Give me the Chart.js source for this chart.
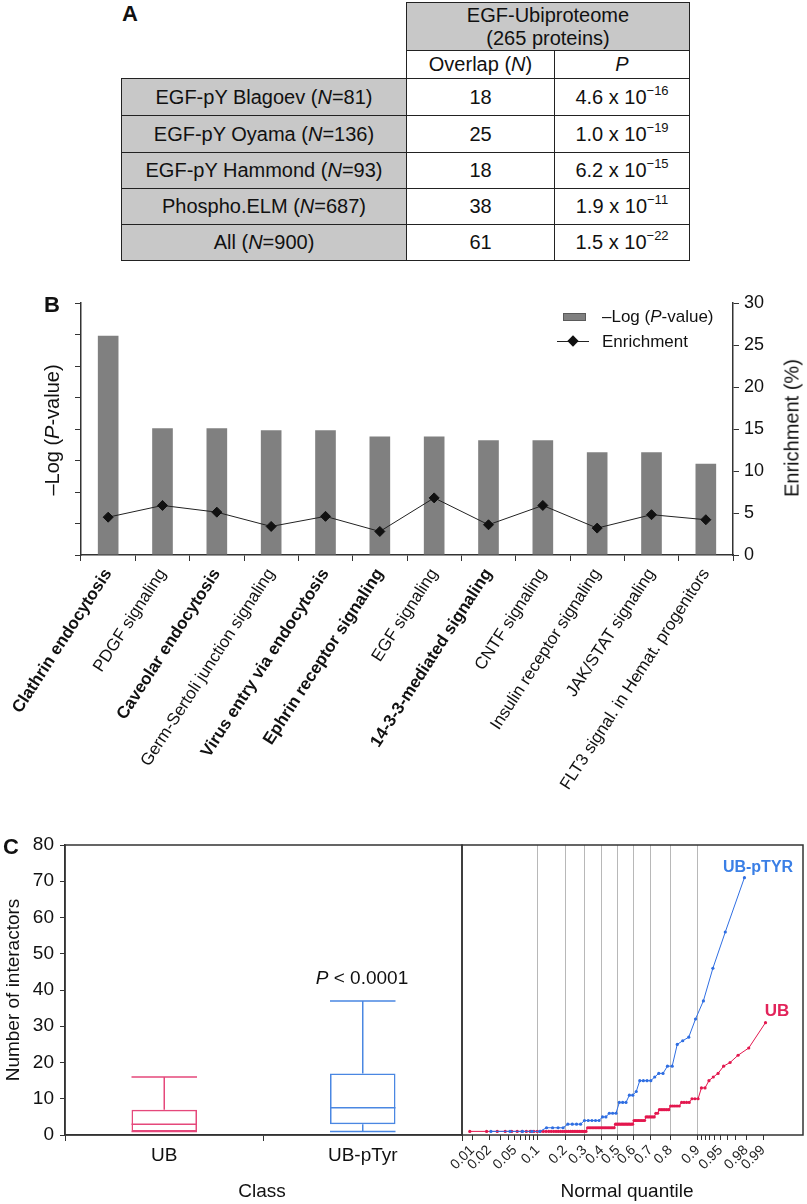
<!DOCTYPE html>
<html>
<head>
<meta charset="utf-8">
<script src="https://cdn.jsdelivr.net/npm/chart.js@4.4.0/dist/chart.umd.min.js"></script>
<style>
  html, body { margin: 0; padding: 0; background: #fff; }
  #fig { position: relative; width: 807px; height: 1204px; overflow: hidden;
         font-family: 'Liberation Sans', Arial, sans-serif; color: #111; }
  .abs { position: absolute; }
  .c { position: absolute; transform: translate(-50%, -50%); white-space: nowrap; }
  .l { position: absolute; transform: translate(0, -50%); white-space: nowrap; }
  .r90 { position: absolute; transform: translate(-50%, -50%) rotate(-90deg); white-space: nowrap; }
  .lg { font-size: 17px; }
  .ttl { font-size: 20px; }
  .letter { font-weight: bold; font-size: 22px; z-index: 2; }
  canvas { position: absolute; }

  #tblA { position: absolute; left: 121px; top: 2px; border-collapse: collapse; font-size: 20px; }
  #tblA td { border: 1.5px solid #222; text-align: center; vertical-align: middle; padding: 0; white-space: nowrap; }
  #tblA td.blank { border: none; background: transparent; }
  #tblA td.gray { background: #c8c8c8; }
  #tblA sup { font-size: 13px; vertical-align: 9px; line-height: 0; }
</style>
</head>
<body>
<div id="fig">
  <table id="tblA"></table>
  <div class="c letter" style="left:130px;top:14px;">A</div>

  <div class="c letter" style="left:52px;top:305px;">B</div>
  <canvas id="chartB" width="807" height="580" style="left:0;top:280px;"></canvas>
  <div class="r90 ttl" style="left:52px;top:430px;">–Log (<i>P</i>-value)</div>
  <div class="r90 ttl" style="left:792px;top:428px;">Enrichment (%)</div>
  <div class="abs" style="left:563px;top:313px;width:23px;height:8px;background:#808080;border:1px solid #5a5a5a;box-sizing:border-box;"></div>
  <div class="l lg" style="left:602px;top:317px;">–Log (<i>P</i>-value)</div>
  <div class="abs" style="left:557px;top:341px;width:32px;height:1px;background:#222;"></div>
  <div class="abs" style="left:569px;top:337px;width:8px;height:8px;background:#111;transform:rotate(45deg);"></div>
  <div class="l lg" style="left:602px;top:342px;">Enrichment</div>

  <div class="c letter" style="left:11px;top:847px;">C</div>
  <canvas id="chartC1" width="464" height="379" style="left:0;top:825px;"></canvas>
  <canvas id="chartC2" width="362" height="379" style="left:445px;top:825px;"></canvas>
  <div class="r90" style="left:13px;top:990px;font-size:19px;">Number of interactors</div>
  <div class="c" style="left:362px;top:978px;font-size:19px;"><i>P</i> &lt; 0.0001</div>
  <div class="c" style="left:262px;top:1191px;font-size:19px;">Class</div>
  <div class="c" style="left:627px;top:1191px;font-size:19px;">Normal quantile</div>
  <div class="c" style="left:758px;top:867px;font-size:16px;font-weight:bold;color:#3a7fe6;">UB-pTYR</div>
  <div class="c" style="left:777px;top:1011px;font-size:17px;font-weight:bold;color:#e2245a;">UB</div>
</div>

<script>
// ---- A: overlap with EGF-pY datasets ----
const setNames = ['EGF-pY Blagoev', 'EGF-pY Oyama', 'EGF-pY Hammond', 'Phospho.ELM', 'All'];
const setSizes = [81, 136, 93, 687, 900];
const overlapN = [18, 25, 18, 38, 61];
const pMantissa = ['4.6', '1.0', '6.2', '1.9', '1.5'];
const pExponent = [-16, -19, -15, -11, -22];

// ---- B: pathway enrichment ----
const pathways = ['Clathrin endocytosis', 'PDGF signaling', 'Caveolar endocytosis',
  'Germ-Sertoli junction signaling', 'Virus entry via endocytosis', 'Ephrin receptor signaling',
  'EGF signaling', '14-3-3-mediated signaling', 'CNTF signaling', 'Insulin receptor signaling',
  'JAK/STAT signaling', 'FLT3 signal. in Hemat. progenitors'];
const negLogP = [34.8, 20.1, 20.1, 19.8, 19.8, 18.8, 18.8, 18.2, 18.2, 16.3, 16.3, 14.5];
const enrichment = [4.5, 5.9, 5.1, 3.4, 4.6, 2.8, 6.8, 3.6, 5.9, 3.2, 4.8, 4.2];
const boldPathways = ['Clathrin endocytosis', 'Caveolar endocytosis', 'Virus entry via endocytosis',
  'Ephrin receptor signaling', '14-3-3-mediated signaling'];

// ---- C: number of interactors (sorted values as level / count) ----
const classes = ['UB', 'UB-pTyr'];
const ubLevels = [1, 2, 3, 4, 5, 6, 7, 8, 9, 10, 13, 15, 16, 17, 19, 20, 22, 24, 31];
const ubCounts = [34, 19, 13, 8, 6, 2, 6, 5, 4, 3, 2, 1, 1, 1, 1, 1, 1, 1, 1];
const pTyrLevels = [1, 2, 3, 4, 5, 6, 9, 11, 12, 15, 16, 17, 19, 25, 26, 27, 32, 37, 46, 56, 71];
const pTyrCounts = [5, 4, 4, 5, 2, 3, 3, 2, 1, 4, 1, 2, 2, 1, 1, 1, 1, 1, 1, 1, 1];
const quantileTicks = [0.01, 0.02, 0.03, 0.04, 0.05, 0.06, 0.07, 0.08, 0.09, 0.1, 0.2, 0.3, 0.4,
  0.5, 0.6, 0.7, 0.8, 0.9, 0.91, 0.92, 0.93, 0.94, 0.95, 0.96, 0.97, 0.98, 0.99];
const quantileLabels = ['0.01', '0.02', '0.05', '0.1', '0.2', '0.3', '0.4', '0.5', '0.6', '0.7',
  '0.8', '0.9', '0.95', '0.98', '0.99'];
const gridQuantiles = [0.1, 0.2, 0.3, 0.4, 0.5, 0.6, 0.7, 0.8, 0.9];

const UB_BOX = '#e5487b', PTYR_BOX = '#4a87e2';
const UB_LINE = '#e3174e', PTYR_LINE = '#2f6ee2';

Chart.defaults.font.family = "'Liberation Sans', Arial, sans-serif";
Chart.defaults.color = '#111';

// table A
const tbl = document.getElementById('tblA');
let html = '<colgroup><col style="width:285px"><col style="width:148px"><col style="width:135px"></colgroup>';
html += '<tr style="height:48px"><td class="blank" rowspan="2"></td>' +
        '<td class="gray" colspan="2" style="line-height:23px">EGF-Ubiproteome<br>(265 proteins)</td></tr>';
html += '<tr style="height:28px"><td>Overlap (<i>N</i>)</td><td><i>P</i></td></tr>';
setNames.forEach((name, i) => {
  html += '<tr style="height:' + (i < 2 ? 37 : 36) + 'px">' +
    '<td class="gray">' + name + ' (<i>N</i>=' + setSizes[i] + ')</td>' +
    '<td>' + overlapN[i] + '</td>' +
    '<td>' + pMantissa[i] + ' x 10<sup>\u2212' + Math.abs(pExponent[i]) + '</sup></td></tr>';
});
tbl.innerHTML = html;

// draws a frame round the plot area
const frame = {
  id: 'frame',
  afterDraw(chart) {
    const { ctx, chartArea: a } = chart;
    ctx.save();
    ctx.strokeStyle = '#333';
    ctx.lineWidth = 1.5;
    ctx.strokeRect(a.left, a.top, a.right - a.left, a.bottom - a.top);
    ctx.restore();
  }
};

// chart B
new Chart(document.getElementById('chartB'), {
  type: 'bar',
  data: {
    labels: pathways,
    datasets: [{
      type: 'line',
      label: 'Enrichment',
      data: enrichment,
      yAxisID: 'yR',
      borderColor: '#222',
      borderWidth: 1,
      pointStyle: 'rectRot',
      pointRadius: 5,
      pointBackgroundColor: '#111',
      pointBorderColor: '#111',
      order: 0
    }, {
      label: '–Log (P-value)',
      data: negLogP,
      yAxisID: 'yL',
      backgroundColor: '#808080',
      barPercentage: 0.38,
      categoryPercentage: 1,
      order: 1
    }]
  },
  options: {
    responsive: false,
    animation: false,
    layout: { padding: { top: 23 } },
    plugins: { legend: { display: false }, tooltip: { enabled: false } },
    scales: {
      x: {
        grid: { offset: true, drawOnChartArea: false, tickLength: 6, color: '#333' },
        border: { color: '#333', width: 1.5 },
        ticks: {
          autoSkip: false, minRotation: 57, maxRotation: 57, padding: 4, color: '#111',
          font: ctx => ({ size: 17,
            weight: boldPathways.includes(pathways[ctx.index]) ? 'bold' : 'normal' })
        },
        afterFit: s => { s.height = 305; s.paddingLeft = 0; s.paddingRight = 0; }
      },
      yL: {
        position: 'left', min: 0, max: 40,
        ticks: { stepSize: 5, display: false },
        grid: { drawOnChartArea: false, tickLength: 6, color: '#333' },
        border: { color: '#333', width: 1.5 },
        afterFit: s => { s.width = 81; }
      },
      yR: {
        position: 'right', min: 0, max: 30,
        ticks: { stepSize: 5, padding: 5, color: '#111', font: { size: 18 } },
        grid: { drawOnChartArea: false, tickLength: 6, color: '#333' },
        border: { color: '#333', width: 1.5 },
        afterFit: s => { s.width = 74; }
      }
    }
  }
});

// C helpers
function probit(p) {
  const a = [-3.969683028665376e+01, 2.209460984245205e+02, -2.759285104469687e+02,
             1.383577518672690e+02, -3.066479806614716e+01, 2.506628277459239e+00];
  const b = [-5.447609879822406e+01, 1.615858368580409e+02, -1.556989798598866e+02,
             6.680131188771972e+01, -1.328068155288572e+01];
  const c = [-7.784894002430293e-03, -3.223964580411365e-01, -2.400758277161838e+00,
             -2.549732539343734e+00, 4.374664141464968e+00, 2.938163982698783e+00];
  const d = [7.784695709041462e-03, 3.224671290700398e-01, 2.445134137142996e+00,
             3.754408661907416e+00];
  const tail = q => (((((c[0]*q + c[1])*q + c[2])*q + c[3])*q + c[4])*q + c[5]) /
                    ((((d[0]*q + d[1])*q + d[2])*q + d[3])*q + 1);
  if (p < 0.02425) return tail(Math.sqrt(-2 * Math.log(p)));
  if (p > 1 - 0.02425) return -tail(Math.sqrt(-2 * Math.log(1 - p)));
  const q = p - 0.5, r = q * q;
  return (((((a[0]*r + a[1])*r + a[2])*r + a[3])*r + a[4])*r + a[5]) * q /
         (((((b[0]*r + b[1])*r + b[2])*r + b[3])*r + b[4])*r + 1);
}
const expand = (levels, counts) => levels.flatMap((v, i) => Array(counts[i]).fill(v));
const ubValues = expand(ubLevels, ubCounts);
const pTyrValues = expand(pTyrLevels, pTyrCounts);

function quantile(s, p) {
  const h = p * (s.length + 1), lo = Math.floor(h), f = h - lo;
  const a = s[Math.max(lo - 1, 0)], b = s[Math.min(lo, s.length - 1)];
  return a + f * (b - a);
}
function boxStats(s) {
  const q1 = quantile(s, 0.25), med = quantile(s, 0.5), q3 = quantile(s, 0.75);
  const iqr = q3 - q1;
  return {
    lo: Math.min(...s.filter(v => v >= q1 - 1.5 * iqr)),
    q1, med, q3,
    hi: Math.max(...s.filter(v => v <= q3 + 1.5 * iqr))
  };
}
const boxes = [boxStats(ubValues), boxStats(pTyrValues)];
const boxColors = [UB_BOX, PTYR_BOX];

// median and whiskers on top of the floating-bar boxes
const whiskers = {
  id: 'whiskers',
  afterDatasetsDraw(chart) {
    const { ctx } = chart;
    const y = chart.scales.y;
    const meta = chart.getDatasetMeta(0);
    ctx.save();
    ctx.lineWidth = 1.5;
    boxes.forEach((b, i) => {
      const bar = meta.data[i];
      const cx = bar.x, half = bar.width / 2;
      const py = v => y.getPixelForValue(v);
      ctx.strokeStyle = boxColors[i];
      ctx.beginPath();
      ctx.moveTo(cx - half, py(b.med)); ctx.lineTo(cx + half, py(b.med));
      ctx.moveTo(cx, py(b.q3)); ctx.lineTo(cx, py(b.hi));
      ctx.moveTo(cx - half, py(b.hi)); ctx.lineTo(cx + half, py(b.hi));
      ctx.moveTo(cx, py(b.q1)); ctx.lineTo(cx, py(b.lo));
      ctx.moveTo(cx - half, py(b.lo)); ctx.lineTo(cx + half, py(b.lo));
      ctx.stroke();
    });
    ctx.restore();
  }
};

new Chart(document.getElementById('chartC1'), {
  type: 'bar',
  data: {
    labels: classes,
    datasets: [{
      data: boxes.map(b => [b.q1, b.q3]),
      borderColor: boxColors,
      backgroundColor: 'rgba(0,0,0,0)',
      borderWidth: 1.5,
      borderSkipped: false,
      barPercentage: 0.33,
      categoryPercentage: 1
    }]
  },
  options: {
    responsive: false,
    animation: false,
    layout: { padding: { top: 20, right: 2 } },
    plugins: { legend: { display: false }, tooltip: { enabled: false } },
    scales: {
      x: {
        grid: { offset: true, drawOnChartArea: false, tickLength: 6, color: '#333' },
        border: { color: '#333', width: 1.5 },
        ticks: { font: { size: 19 }, padding: 3 },
        afterFit: s => { s.height = 69; }
      },
      y: {
        min: 0, max: 80,
        ticks: { stepSize: 10, font: { size: 19 }, padding: 6 },
        grid: { drawOnChartArea: false, tickLength: 5, color: '#333' },
        border: { color: '#333', width: 1.5 },
        afterFit: s => { s.width = 65; }
      }
    }
  },
  plugins: [whiskers, frame]
});

const quantilePoints = s => s.map((v, i) => ({ x: probit((i + 1) / (s.length + 1)), y: v }));

new Chart(document.getElementById('chartC2'), {
  type: 'scatter',
  data: {
    datasets: [{
      label: 'UB-pTYR',
      data: quantilePoints(pTyrValues),
      showLine: true,
      borderColor: PTYR_LINE,
      backgroundColor: PTYR_LINE,
      borderWidth: 1,
      pointRadius: 1.6,
      pointBorderWidth: 0
    }, {
      label: 'UB',
      data: quantilePoints(ubValues),
      showLine: true,
      borderColor: UB_LINE,
      backgroundColor: UB_LINE,
      borderWidth: 1,
      pointRadius: 1.6,
      pointBorderWidth: 0
    }]
  },
  options: {
    responsive: false,
    animation: false,
    layout: { padding: { top: 20, left: 17, right: 4 } },
    plugins: { legend: { display: false }, tooltip: { enabled: false } },
    scales: {
      x: {
        type: 'linear', min: -2.49, max: 2.965, bounds: 'data',
        afterBuildTicks: s => { s.ticks = quantileTicks.map(p => ({ value: probit(p) })); },
        ticks: {
          autoSkip: false, minRotation: 45, maxRotation: 45, padding: 2, color: '#222',
          font: { size: 14 },
          callback: (v, i) => quantileLabels.includes(String(quantileTicks[i])) ? String(quantileTicks[i]) : ''
        },
        grid: {
          color: ctx => gridQuantiles.includes(quantileTicks[ctx.index]) ? '#b8b8b8' : 'rgba(0,0,0,0)',
          tickColor: '#333', tickLength: 5, lineWidth: 1
        },
        border: { display: false },
        afterFit: s => { s.height = 69; s.paddingLeft = 0; s.paddingRight = 0; }
      },
      y: { display: false, min: 0, max: 80 }
    }
  },
  plugins: [frame]
});
</script>
</body>
</html>
